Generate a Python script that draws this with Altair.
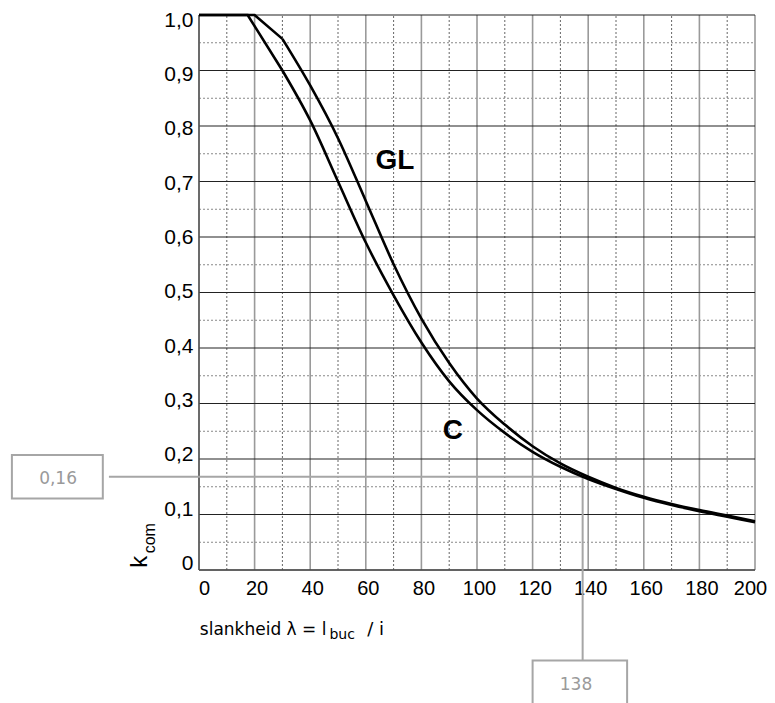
import altair as alt
import pandas as pd

# ---- data ----
lam_gl = [0, 10, 20, 30, 40, 50, 60, 70, 80, 90, 100, 110, 120, 130, 140, 150, 160, 170, 180, 190, 200]
k_gl = [1.0, 1.0, 1.0, 0.957, 0.873, 0.778, 0.665, 0.551, 0.453, 0.373, 0.309, 0.262, 0.223, 0.192,
        0.168, 0.148, 0.132, 0.119, 0.108, 0.098, 0.088]

lam_c = [0, 10, 17.5, 30, 40, 50, 60, 70, 80, 90, 100, 110, 120, 130, 140, 150, 160, 170, 180, 190, 200]
k_c = [1.0, 1.0, 1.0, 0.90, 0.81, 0.70, 0.59, 0.495, 0.41, 0.34, 0.288, 0.247, 0.213, 0.186,
       0.164, 0.146, 0.130, 0.117, 0.106, 0.096, 0.086]
knee = 30  # straight segments up to here, smooth curve after

major_x = [0, 20, 40, 60, 80, 100, 120, 140, 160, 180, 200]
minor_x = [10, 30, 50, 70, 90, 110, 130, 150, 170, 190]
major_y = [0.0, 0.1, 0.2, 0.3, 0.4, 0.5, 0.6, 0.7, 0.8, 0.9, 1.0]
minor_y = [0.05, 0.15, 0.25, 0.35, 0.45, 0.55, 0.65, 0.75, 0.85, 0.95]

series_labels = ["GL", "C"]
label_lam = [70.5, 91.3]
label_k = [0.737, 0.25]

annot_lam = 138
annot_k = 0.168
annot_lam_text = "138"
annot_k_text = "0,16"
# annotation geometry (data units)
hline_start = -32.4
vline_end = -0.163
box_lam = dict(x=120, x2=154, y=-0.163, y2=-0.25)
box_k = dict(x=-67.3, x2=-34.6, y=0.207, y2=0.129)
box_lam_text = (135.6, -0.207)
box_k_text = (-50.7, 0.164)

# axis titles (text, anchor lambda, anchor k, font size)
xtitle_parts = [("slankheid λ = l", 0.3, -0.117, 17), ("buc", 46.9, -0.124, 14), ("/ i", 60.5, -0.117, 18)]
ytitle_parts = [("k", -18.6, 0.004, 24), ("com", -16.0, 0.03, 16)]

W, H = 556, 555
xs = alt.Scale(domain=[0, 200], nice=False, zero=False)
ys = alt.Scale(domain=[0, 1], nice=False, zero=False)

axis_x = alt.Axis(values=major_x, format="d", labelFont="Liberation Sans", labelFontSize=20,
                  labelColor="black", domain=False, ticks=False, grid=False, labelPadding=8,
                  labelOffset={"expr": "datum.value == 0 ? 5 : (datum.value == 200 ? -5 : 2)"},
                  labelFlush=False, labelOverlap=False, labelBound=False, title=None)
axis_y = alt.Axis(values=major_y,
                  labelExpr="datum.value == 0 ? '0' : replace(format(datum.value, '.1f'), '.', ',')",
                  labelFont="Liberation Sans", labelFontSize=21, labelColor="black",
                  domain=False, ticks=False, grid=False, labelPadding=6,
                  labelOffset={"expr": "5 - 11.5 * (1 - datum.value)"},
                  labelFlush=False, labelOverlap=False, labelBound=False, title=None)


def X(field):
    return alt.X(field, type="quantitative", scale=xs, axis=axis_x, title=None)


def Y(field):
    return alt.Y(field, type="quantitative", scale=ys, axis=axis_y, title=None)


# ---- grid ----
vmaj = pd.DataFrame({"x": major_x, "y0": 0.0, "y1": 1.0})
vmin = pd.DataFrame({"x": minor_x, "y0": 0.0, "y1": 1.0})
hmaj = pd.DataFrame({"y": major_y, "x0": 0.0, "x1": 200.0})
hmin = pd.DataFrame({"y": minor_y, "x0": 0.0, "x1": 200.0})

g_vmin = alt.Chart(vmin).mark_rule(color="#666666", strokeWidth=1, strokeDash=[2, 2]).encode(
    x=X("x"), y=Y("y0"), y2="y1:Q")
g_hmin = alt.Chart(hmin).mark_rule(color="#888888", strokeWidth=1, strokeDash=[2, 2]).encode(
    x=X("x0"), x2="x1:Q", y=Y("y"))
g_vmaj = alt.Chart(vmaj).mark_rule(color="#9a9a9a", strokeWidth=1.6).encode(
    x=X("x"), y=Y("y0"), y2="y1:Q")
g_hmaj = alt.Chart(hmaj).mark_rule(color="#222222", strokeWidth=1.1).encode(
    x=X("x0"), x2="x1:Q", y=Y("y"))

# borders (left and bottom axis lines)
border = pd.DataFrame({"x0": [0.0, 0.0], "x1": [0.0, 200.0], "y0": [0.0, 0.0], "y1": [1.0, 0.0]})
g_border = alt.Chart(border).mark_rule(color="#555555", strokeWidth=1.5).encode(
    x=X("x0"), x2="x1:Q", y=Y("y0"), y2="y1:Q")

# ---- annotation ----
ann_lines = pd.DataFrame({"x0": [hline_start, annot_lam], "x1": [annot_lam, annot_lam],
                          "y0": [annot_k, annot_k], "y1": [annot_k, vline_end]})
g_ann = alt.Chart(ann_lines).mark_rule(color="#a6a6a6", strokeWidth=2).encode(
    x=X("x0"), x2="x1:Q", y=Y("y0"), y2="y1:Q")
boxes = pd.DataFrame([box_lam, box_k])
g_boxes = alt.Chart(boxes).mark_rect(fill="white", stroke="#a6a6a6", strokeWidth=2).encode(
    x=X("x"), x2="x2:Q", y=Y("y"), y2="y2:Q")
box_texts = pd.DataFrame({"t": [annot_lam_text, annot_k_text],
                          "x": [box_lam_text[0], box_k_text[0]],
                          "y": [box_lam_text[1], box_k_text[1]]})
g_boxtext = alt.Chart(box_texts).mark_text(font="DejaVu Sans", fontSize=17, color="#9a9a9a",
                                           align="center", baseline="middle").encode(
    x=X("x"), y=Y("y"), text="t:N")


# ---- curves ----
def curve_layers(lams, ks, name):
    df = pd.DataFrame({"lam": lams, "k": ks, "s": name})
    head = df[df.lam <= knee]
    rest = df[df.lam >= knee]
    l1 = alt.Chart(head).mark_line(color="black", strokeWidth=2.6, interpolate="linear").encode(
        x=X("lam"), y=Y("k"))
    l2 = alt.Chart(rest).mark_line(color="black", strokeWidth=2.6, interpolate="monotone").encode(
        x=X("lam"), y=Y("k"))
    return [l1, l2]


curves = curve_layers(lam_gl, k_gl, "GL") + curve_layers(lam_c, k_c, "C")

lab = pd.DataFrame({"t": series_labels, "x": label_lam, "y": label_k})
g_lab = alt.Chart(lab).mark_text(font="Liberation Sans", fontWeight="bold", fontSize=28,
                                 color="black", align="center", baseline="middle").encode(
    x=X("x"), y=Y("y"), text="t:N")

# ---- axis titles ----
xt = pd.DataFrame({"t": [p[0] for p in xtitle_parts], "x": [p[1] for p in xtitle_parts],
                   "y": [p[2] for p in xtitle_parts], "fs": [p[3] for p in xtitle_parts]})
g_xt = alt.Chart(xt).mark_text(font="DejaVu Sans", color="black", align="left",
                               baseline="alphabetic").encode(
    x=X("x"), y=Y("y"), text="t:N",
    size=alt.Size("fs:Q", scale=None, legend=None))
yt = pd.DataFrame({"t": [p[0] for p in ytitle_parts], "x": [p[1] for p in ytitle_parts],
                   "y": [p[2] for p in ytitle_parts], "fs": [p[3] for p in ytitle_parts]})
g_yt = alt.Chart(yt).mark_text(font="Liberation Sans", color="black", align="left",
                               baseline="alphabetic", angle=270).encode(
    x=X("x"), y=Y("y"), text="t:N",
    size=alt.Size("fs:Q", scale=None, legend=None))

chart = alt.layer(
    g_vmin, g_hmin, g_vmaj, g_hmaj, g_border, g_ann, g_boxes, g_boxtext,
    *curves, g_lab, g_xt, g_yt
).properties(
    width=W, height=H,
    autosize=alt.AutoSizeParams(type="none"),
    padding={"left": 191, "top": 7, "right": 12, "bottom": 133},
    background="white",
).configure_view(stroke=None)

chart.save("out.html", embed_options={"renderer": "svg", "actions": False})
